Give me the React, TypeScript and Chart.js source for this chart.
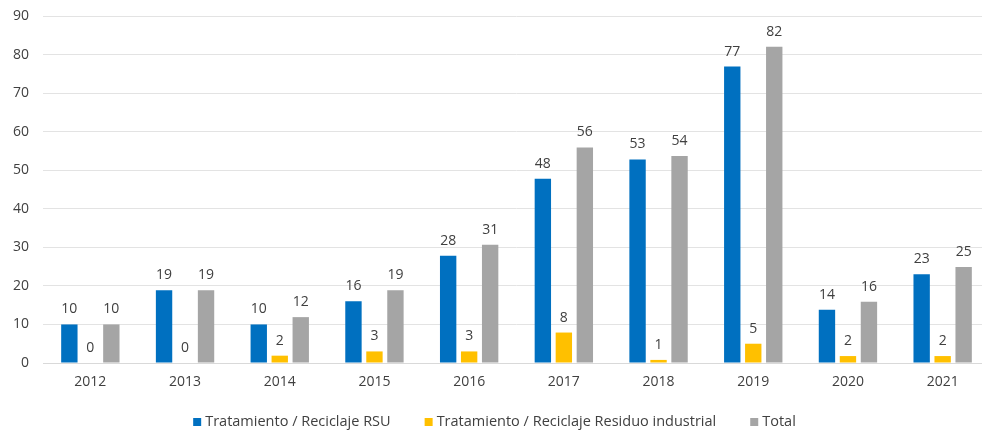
import React, { useEffect, useRef } from "react";
import { Chart, registerables } from "chart.js";

Chart.register(...registerables);

const years = ["2012", "2013", "2014", "2015", "2016", "2017", "2018", "2019", "2020", "2021"];
const rsu = [10, 18.9, 10, 16, 27.8, 47.8, 52.8, 76.9, 13.8, 23];
const industrial = [0, 0, 1.9, 3, 3, 7.9, 0.8, 5, 1.8, 1.8];
const total = [10, 18.9, 11.9, 18.9, 30.7, 55.9, 53.7, 82, 15.9, 24.9];
const seriesNames = ["Tratamiento / Reciclaje RSU", "Tratamiento / Reciclaje Residuo industrial", "Total"];
const seriesColors = ["#0070C0", "#FFC000", "#A5A5A5"];
const yTicks = [0, 10, 20, 30, 40, 50, 60, 70, 80, 90];

const FONT = "'Open Sans'";
const TEXT = "#404040";

const labelPlugin = {
  id: "valueLabels",
  afterDatasetsDraw(chart: any) {
    const ctx = chart.ctx;
    ctx.save();
    ctx.font = `14px ${FONT}`;
    ctx.fillStyle = TEXT;
    ctx.textAlign = "center";
    ctx.textBaseline = "alphabetic";
    chart.data.datasets.forEach((ds: any, i: number) => {
      const meta = chart.getDatasetMeta(i);
      meta.data.forEach((el: any, j: number) => {
        const v = Math.round(ds.data[j]);
        ctx.fillText(String(v), el.x, el.y - 11);
      });
    });
    ctx.restore();
  },
};

const legendPlugin = {
  id: "customLegend",
  afterDraw(chart: any) {
    const ctx = chart.ctx;
    ctx.save();
    ctx.font = `14.5px ${FONT}`;
    ctx.textBaseline = "middle";
    ctx.textAlign = "left";
    const box = 8;
    const boxGap = 4;
    const itemGap = 34;
    const items = chart.data.datasets.map((ds: any) => ({
      text: ds.label,
      color: ds.backgroundColor,
      w: box + boxGap + ctx.measureText(ds.label).width,
    }));
    const totalW = items.reduce((s: number, it: any) => s + it.w, 0) + itemGap * (items.length - 1);
    let x = 494.5 - totalW / 2;
    const y = 422;
    items.forEach((it: any) => {
      ctx.fillStyle = it.color;
      ctx.fillRect(x, y - box / 2, box, box);
      ctx.fillStyle = TEXT;
      ctx.fillText(it.text, x + box + boxGap, y);
      x += it.w + itemGap;
    });
    ctx.restore();
  },
};

export default function App() {
  const ref = useRef<HTMLCanvasElement>(null);
  useEffect(() => {
    if (!ref.current) return;
    const chart = new Chart(ref.current, {
      type: "bar",
      data: {
        labels: years,
        datasets: [rsu, industrial, total].map((d, i) => ({
          label: seriesNames[i],
          data: d,
          backgroundColor: seriesColors[i],
          borderWidth: 0,
          categoryPercentage: 0.665,
          barPercentage: 0.78,
        })),
      },
      options: {
        animation: false,
        responsive: false,
        devicePixelRatio: 1,
        layout: { padding: { top: 16, right: 0, bottom: 30, left: 0 } },
        plugins: {
          legend: { display: false },
          tooltip: { enabled: false },
        },
        scales: {
          x: {
            grid: { display: false, drawTicks: false },
            border: { color: "#D9D9D9" },
            ticks: { color: TEXT, font: { family: FONT, size: 14 }, padding: 11 },
            afterFit(scale: any) {
              scale.height = 42;
              scale.paddingLeft = 0;
              scale.paddingRight = 0;
            },
          },
          y: {
            min: 0,
            max: 90,
            afterBuildTicks(scale: any) {
              scale.ticks = yTicks.map((v) => ({ value: v }));
            },
            grid: { color: "#E3E3E3", drawTicks: false },
            border: { display: false },
            ticks: { color: TEXT, font: { family: FONT, size: 14 }, padding: 14 },
            afterFit(scale: any) {
              scale.width = 43;
              scale.paddingTop = 0;
              scale.paddingBottom = 0;
            },
          },
        },
      },
      plugins: [labelPlugin, legendPlugin],
    } as any);
    return () => chart.destroy();
  }, []);
  return (
    <div style={{ position: "fixed", left: 0, top: 0, width: 982, height: 435, overflow: "hidden", background: "#fff" }}>
      <canvas ref={ref} width={990} height={435} style={{ display: "block" }} />
    </div>
  );
}
